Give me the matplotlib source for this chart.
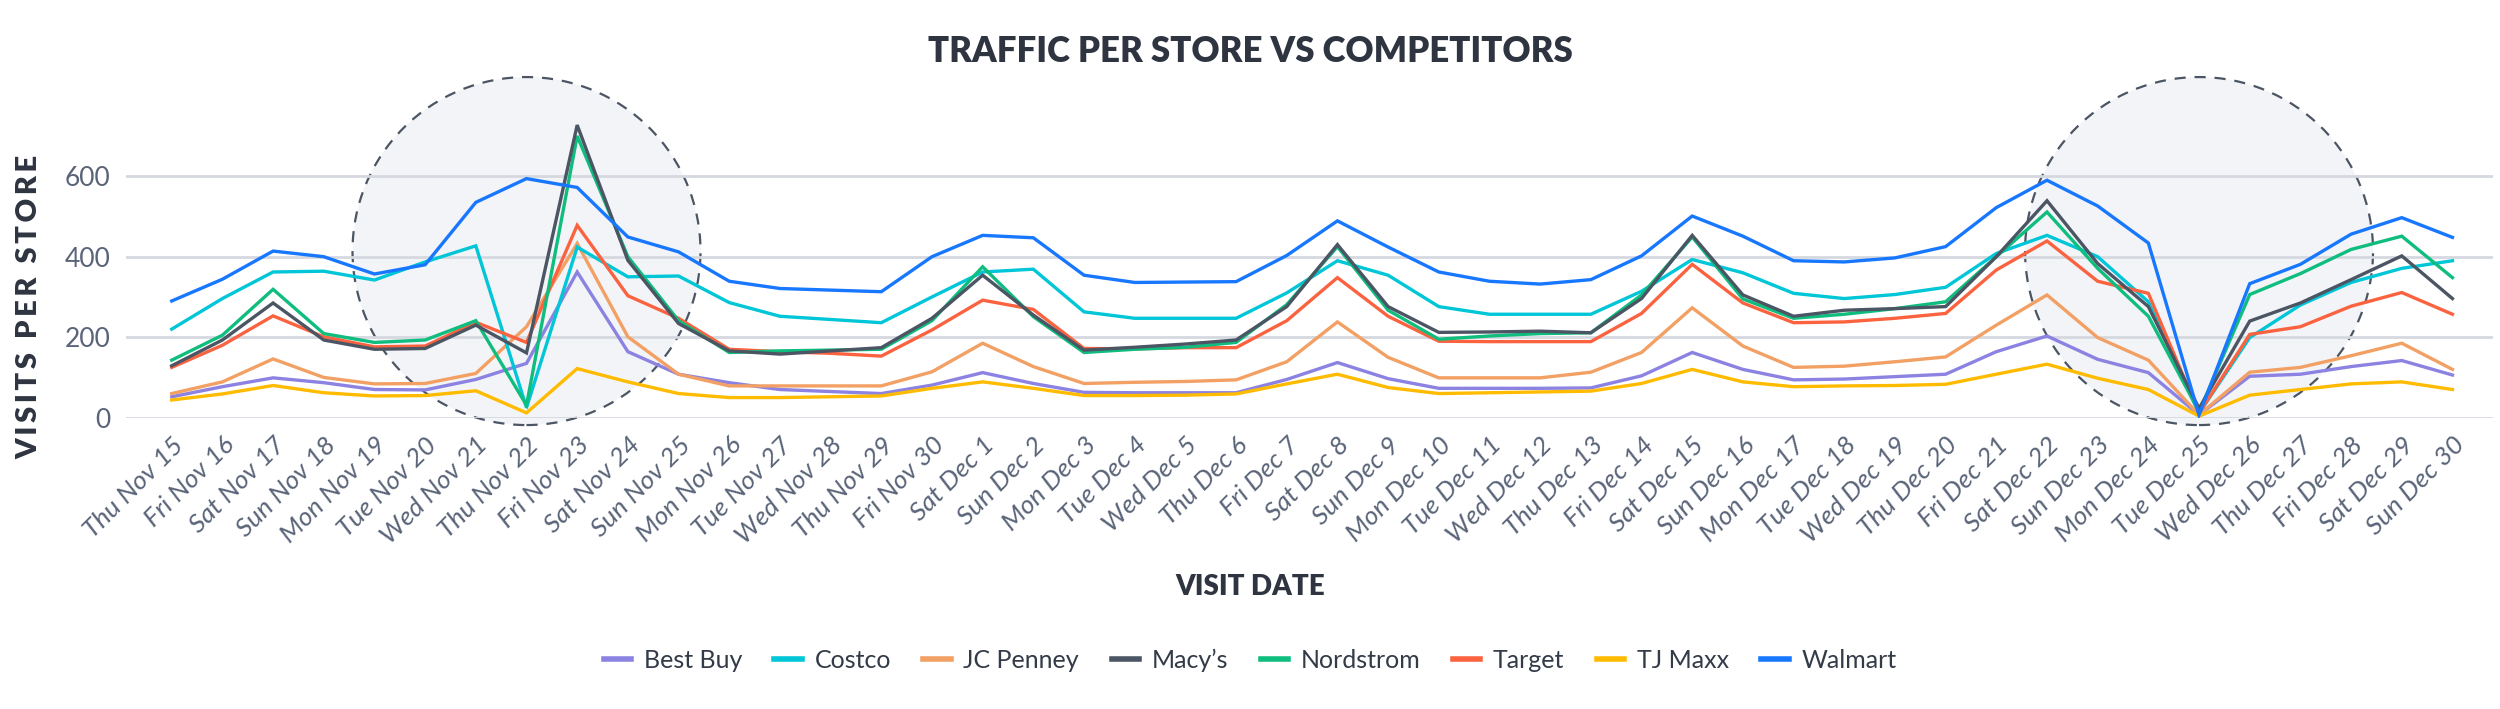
import matplotlib as mpl
mpl.use('Agg')
import matplotlib.pyplot as plt
from matplotlib.patches import Ellipse
from matplotlib.lines import Line2D
import pandas as pd

plt.rcParams['font.family'] = ['Lato', 'DejaVu Sans']

dates = pd.date_range('2018-11-15', '2018-12-30')
labels = [f"{d.strftime('%a %b')} {d.day}" for d in dates]

best_buy = [52, 77, 99, 87, 70, 69, 95, 135, 362, 164, 108, 87, 70, 65, 60, 81, 112, 85, 63, 62, 62, 62, 95,
            137, 97, 73, 73, 73, 74, 104, 162, 120, 94, 96, 102, 108, 164, 203, 145, 112, 7, 103, 108, 127, 142, 106]
costco = [220, 296, 362, 364, 342, 387, 427, 25, 424, 350, 352, 286, 252, 244, 236, 300, 362, 369, 263, 247, 247,
          247, 310, 390, 354, 276, 257, 257, 257, 314, 393, 360, 309, 296, 306, 324, 408, 453, 400, 288, 11, 199,
          280, 336, 371, 390]
jc_penney = [60, 89, 146, 100, 84, 85, 110, 226, 433, 201, 108, 79, 79, 79, 79, 114, 185, 127, 85, 88, 90, 94, 139,
             238, 150, 99, 99, 99, 113, 162, 273, 178, 125, 128, 139, 151, 230, 305, 199, 143, 7, 113, 125, 154, 185, 120]
macys = [129, 193, 285, 193, 170, 172, 230, 161, 727, 391, 234, 166, 158, 166, 174, 247, 354, 255, 168, 175, 183,
         193, 276, 430, 276, 212, 213, 215, 211, 296, 453, 305, 252, 267, 271, 276, 400, 539, 383, 276, 23, 240,
         285, 343, 402, 296]
nordstrom = [143, 205, 319, 209, 187, 193, 241, 31, 700, 400, 241, 162, 166, 168, 170, 241, 375, 251, 162, 170, 175,
             187, 281, 425, 267, 195, 203, 209, 211, 305, 449, 295, 247, 257, 271, 288, 400, 511, 371, 252, 15, 306,
             358, 418, 451, 348]
target = [125, 180, 253, 201, 176, 178, 237, 187, 478, 303, 247, 170, 164, 160, 153, 218, 292, 269, 172, 171, 174,
          174, 241, 348, 252, 190, 189, 189, 189, 259, 381, 285, 236, 238, 247, 259, 367, 439, 339, 309, 11, 207,
          226, 277, 311, 257]
tj_maxx = [44, 59, 80, 62, 54, 55, 67, 12, 122, 89, 60, 50, 50, 52, 54, 73, 89, 73, 55, 55, 56, 59, 84, 108, 75, 60,
           62, 64, 66, 85, 120, 89, 77, 79, 80, 83, 108, 133, 98, 70, 4, 56, 70, 84, 89, 70]
walmart = [290, 344, 414, 400, 357, 380, 535, 594, 572, 449, 412, 339, 321, 317, 313, 400, 453, 447, 354, 336, 337,
           338, 403, 489, 424, 362, 339, 332, 343, 402, 501, 451, 390, 387, 397, 425, 522, 590, 526, 434, 7, 333,
           381, 456, 497, 448]

stores = ['Best Buy', 'Costco', 'JC Penney', "Macy\u2019s", 'Nordstrom', 'Target', 'TJ Maxx', 'Walmart']
series = [best_buy, costco, jc_penney, macys, nordstrom, target, tj_maxx, walmart]
colors = ['#8b82e2', '#00c6d7', '#f2a064', '#4b5563', '#0fbd7e', '#fb6340', '#ffbb00', '#1877ff']
zorders = [3, 4, 3, 6, 5, 4, 3, 7]
highlights = ['2018-11-22', '2018-12-25']


def spaced(s):
    # fake letter spacing with thin spaces
    return '\u2009'.join(s)


W, H = 2500, 709
fig = plt.figure(figsize=(W / 100, H / 100), dpi=100)
left, right, bottom, top = 125.7, 2493, 417.7, 111.8
ax = fig.add_axes([left / W, 1 - bottom / H, (right - left) / W, (bottom - top) / H])
x = list(range(len(labels)))
ax.set_xlim(-0.908, 45.8)
ax.set_ylim(0, 760)

# highlight circles, radius in pixels converted to data units
px_x = (right - left) / (45.8 + 0.908)
px_y = (bottom - top) / 760
r = 174
for h in highlights:
    i = list(dates).index(pd.Timestamp(h))
    ax.add_patch(Ellipse((i, 414), 2 * r / px_x, 2 * r / px_y, facecolor='#f3f4f7', edgecolor='#4b5563',
                         lw=1.6, ls=(0, (5, 4)), zorder=0, clip_on=False))

for yv in [0, 200, 400, 600]:
    ax.axhline(yv, color='#d5d8df', lw=2, zorder=1)

for name, vals, c, z in zip(stores, series, colors, zorders):
    ax.plot(x, vals, color=c, lw=2.4, zorder=z, solid_joinstyle='miter')

for s in ax.spines.values():
    s.set_visible(False)
ax.set_yticks([0, 200, 400, 600])
ax.tick_params(axis='y', length=0, pad=11, labelsize=19, labelcolor='#5a6478')
ax.set_xticks(x)
ax.set_xticklabels(labels, rotation=45, ha='right', va='top', rotation_mode='anchor',
                   fontsize=19, style='italic', color='#5a6478')
ax.tick_params(axis='x', length=0, pad=11)

fig.text(0.5, 1 - 51 / H, 'TRAFFIC PER STORE VS COMPETITORS', ha='center', va='center',
         fontsize=25, fontweight='heavy', color='#2e3541')
fig.text(0.5, 1 - 587 / H, 'VISIT DATE', ha='center', va='center',
         fontsize=20, fontweight='heavy', color='#2e3541')
fig.text(29 / W, 1 - 307 / H, spaced('VISITS PER STORE'), ha='center', va='center', rotation=90,
         fontsize=21, fontweight='heavy', color='#2e3541')

handles = [Line2D([], [], color=c, lw=4) for c in colors]
fig.legend(handles, stores, loc='center', bbox_to_anchor=(0.5, 1 - 660 / H), ncol=8, frameon=False,
           fontsize=18, handlelength=1.1, handletextpad=0.5, columnspacing=1.3, labelcolor='#333b48')

plt.savefig('out.png', dpi=100)
